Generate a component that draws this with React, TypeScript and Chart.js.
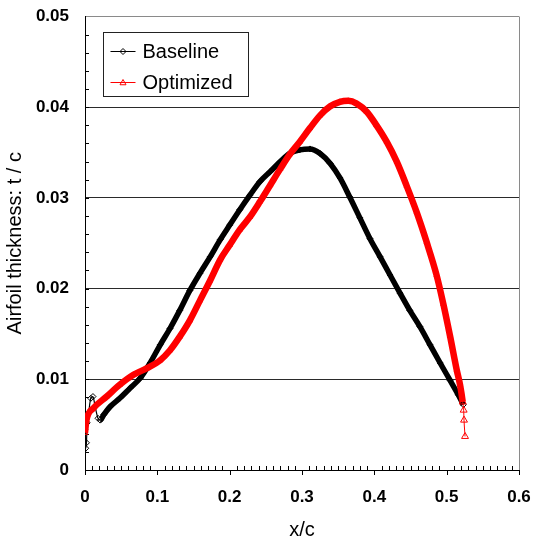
import React, { useEffect, useRef } from 'react';
import { Chart, registerables } from 'chart.js';

Chart.register(...registerables);

// ---- data ----
const seriesLabels = ['Baseline', 'Optimized'];

const baselineX = [
  0.0, 0.001, 0.002, 0.003, 0.005, 0.008, 0.011, 0.014, 0.018, 0.021, 0.026,
  0.035, 0.048, 0.062, 0.076, 0.09, 0.104, 0.1175, 0.131, 0.145, 0.159, 0.173,
  0.187, 0.2, 0.214, 0.228, 0.242, 0.256, 0.27, 0.283, 0.297, 0.311, 0.325,
  0.339, 0.3525, 0.366, 0.38, 0.394, 0.408, 0.4217, 0.4355, 0.449, 0.463,
  0.477, 0.491, 0.5046, 0.516, 0.523,
];
const baselineY = [
  0.0045, 0.0024, 0.003, 0.0052, 0.0063, 0.0079, 0.0081, 0.007, 0.0057, 0.0055,
  0.0061, 0.007, 0.0079, 0.009, 0.0101, 0.0118, 0.0138, 0.0156, 0.0176, 0.0198,
  0.0217, 0.0235, 0.0254, 0.027, 0.0287, 0.0303, 0.0318, 0.0329, 0.034, 0.0349,
  0.0353, 0.0354, 0.0349, 0.0338, 0.0322, 0.0301, 0.0278, 0.0255, 0.0235,
  0.0215, 0.0195, 0.0176, 0.0158, 0.0138, 0.0118, 0.0099, 0.0083, 0.0072,
];

const optimizedX = [
  0.0, 0.002, 0.0115, 0.03, 0.048, 0.067, 0.085, 0.104, 0.1175, 0.131, 0.145,
  0.159, 0.173, 0.187, 0.2, 0.214, 0.228, 0.242, 0.256, 0.27, 0.283, 0.297,
  0.311, 0.325, 0.339, 0.3525, 0.364, 0.3756, 0.3895, 0.403, 0.417, 0.431,
  0.4448, 0.4586, 0.4724, 0.486, 0.4954, 0.5046, 0.514, 0.5185, 0.5222,
  0.5235, 0.524, 0.5254,
];
const optimizedY = [
  0.0041, 0.0055, 0.0068, 0.0081, 0.0094, 0.0105, 0.0112, 0.0121, 0.0132,
  0.0147, 0.0165, 0.0187, 0.0209, 0.0232, 0.0248, 0.0265, 0.0279, 0.0296,
  0.0314, 0.0332, 0.0348, 0.0362, 0.0377, 0.0391, 0.0401, 0.0406, 0.0407,
  0.0404, 0.0395, 0.038, 0.0362, 0.034, 0.0313, 0.0284, 0.0251, 0.0215, 0.0183,
  0.0148, 0.011, 0.0094, 0.0075, 0.0066, 0.0055, 0.0037,
];

const xTickLabels = ['0', '0.1', '0.2', '0.3', '0.4', '0.5', '0.6'];
const yTickLabels = ['0', '0.01', '0.02', '0.03', '0.04', '0.05'];
const xTitle = 'x/c';
const yTitle = 'Airfoil thickness: t / c';

const X_MIN = 0, X_MAX = 0.6, X_STEP = 0.1, X_MINOR = 0.01;
const Y_MIN = 0, Y_MAX = 0.05, Y_STEP = 0.01, Y_MINOR = 0.002;

const FONT = "'Liberation Sans', Arial, sans-serif";

function drawMarker(ctx: CanvasRenderingContext2D, style: string, cx: number, cy: number, r: number) {
  ctx.beginPath();
  if (style === 'triangle') {
    ctx.moveTo(cx, cy - r);
    ctx.lineTo(cx + r, cy + r * 0.75);
    ctx.lineTo(cx - r, cy + r * 0.75);
    ctx.closePath();
  } else {
    ctx.moveTo(cx, cy - r);
    ctx.lineTo(cx + r, cy);
    ctx.lineTo(cx, cy + r);
    ctx.lineTo(cx - r, cy);
    ctx.closePath();
  }
  ctx.stroke();
}

const axisTicksPlugin = {
  id: 'axisTicks',
  beforeDatasetsDraw(chart: any) {
    const { ctx, chartArea: ca, scales } = chart;
    const x = scales.x, y = scales.y;
    ctx.save();
    ctx.strokeStyle = '#000';
    ctx.lineWidth = 1;
    ctx.beginPath();
    const ny = Math.round((Y_MAX - Y_MIN) / Y_MINOR);
    for (let i = 1; i < ny; i++) {
      const py = Math.round(y.getPixelForValue(Y_MIN + i * Y_MINOR)) + 0.5;
      ctx.moveTo(ca.left, py);
      ctx.lineTo(ca.left + 4, py);
    }
    const nx = Math.round((X_MAX - X_MIN) / X_MINOR);
    const per = Math.round(X_STEP / X_MINOR);
    for (let i = 0; i <= nx; i++) {
      const px = Math.round(x.getPixelForValue(X_MIN + i * X_MINOR)) + 0.5;
      if (i % per === 0) {
        ctx.moveTo(px, ca.bottom);
        ctx.lineTo(px, ca.bottom + 5);
      } else {
        ctx.moveTo(px, ca.bottom - 4);
        ctx.lineTo(px, ca.bottom);
      }
    }
    ctx.stroke();
    ctx.restore();
  },
};

const boxLegendPlugin = {
  id: 'boxLegend',
  afterDraw(chart: any) {
    const { ctx, chartArea: ca } = chart;
    const bx = Math.round(ca.left + 18) + 0.5;
    const by = Math.round(ca.top + 15) + 0.5;
    const bw = 145, bh = 64;
    ctx.save();
    ctx.fillStyle = '#fff';
    ctx.fillRect(bx, by, bw, bh);
    ctx.strokeStyle = '#222';
    ctx.lineWidth = 1;
    ctx.strokeRect(bx, by, bw, bh);
    seriesLabels.forEach((lab, i) => {
      const ds = chart.data.datasets.find((d: any) => d.label === lab);
      if (!ds) return;
      const cy = Math.round(by + 18 + i * 31.5) + 0.5;
      ctx.strokeStyle = ds.borderColor;
      ctx.lineWidth = 1;
      ctx.beginPath();
      ctx.moveTo(bx + 7, cy);
      ctx.lineTo(bx + 32, cy);
      ctx.stroke();
      ctx.fillStyle = '#fff';
      drawMarker(ctx, ds.pointStyle, bx + 19.5, cy, 3);
      ctx.fillStyle = '#000';
      ctx.font = `20px ${FONT}`;
      ctx.textBaseline = 'middle';
      ctx.textAlign = 'left';
      ctx.fillText(lab, bx + 39, cy + 1);
    });
    ctx.restore();
  },
};

export default function App() {
  const ref = useRef<HTMLCanvasElement>(null);

  useEffect(() => {
    if (!ref.current) return;
    const optimizedData = optimizedX.map((x, i) => ({ x, y: optimizedY[i] }));
    const baselineData = baselineX.map((x, i) => ({ x, y: baselineY[i] }));
    const redThinFrom = optimizedX.length - 4;
    const blackThinTo = 9;

    const chart = new Chart(ref.current, {
      type: 'line',
      data: {
        datasets: [
          {
            label: 'Optimized',
            data: optimizedData,
            borderColor: '#ff0000',
            borderWidth: 6.5,
            pointStyle: 'triangle',
            pointRadius: (c: any) => (c.dataIndex >= redThinFrom ? 4 : 3),
            pointBorderColor: '#ff0000',
            pointBackgroundColor: 'rgba(255,255,255,0)',
            pointBorderWidth: 1,
            cubicInterpolationMode: 'monotone',
            fill: false,
            order: 0,
            segment: {
              borderWidth: (c: any) => (c.p0DataIndex >= redThinFrom ? 1 : 6.5),
            },
          } as any,
          {
            label: 'Baseline',
            data: baselineData,
            borderColor: '#000000',
            borderWidth: 5.5,
            pointStyle: 'rectRot',
            pointRadius: 3,
            pointBorderColor: '#000000',
            pointBackgroundColor: 'rgba(255,255,255,0)',
            pointBorderWidth: 1,
            cubicInterpolationMode: 'monotone',
            fill: false,
            order: 1,
            segment: {
              borderWidth: (c: any) => (c.p0DataIndex < blackThinTo ? 1.2 : 5.5),
            },
          } as any,
        ],
      },
      options: {
        responsive: true,
        maintainAspectRatio: false,
        animation: false,
        layout: { padding: { left: 0, right: 15, top: 16.5, bottom: 0 } },
        plugins: {
          legend: { display: false },
          tooltip: { enabled: false },
        },
        scales: {
          x: {
            type: 'linear',
            min: X_MIN,
            max: X_MAX,
            afterFit: (s: any) => {
              s.height = 69;
              s.paddingLeft = 0;
              s.paddingRight = 0;
            },
            ticks: {
              stepSize: X_STEP,
              padding: 17,
              color: '#000',
              autoSkip: false,
              maxRotation: 0,
              font: { family: FONT, size: 17, weight: 'bold' },
              callback: (_v: any, i: number) => xTickLabels[i],
            },
            grid: {
              drawTicks: false,
              lineWidth: 1,
              color: (c: any) =>
                c.tick && Math.abs(c.tick.value - X_MAX) < 1e-9 ? '#8a8a8a' : 'rgba(0,0,0,0)',
            },
            border: { color: '#000', width: 1 },
            title: {
              display: true,
              text: xTitle,
              color: '#000',
              font: { family: FONT, size: 20 },
              padding: { top: 0, bottom: -3 },
            },
          },
          y: {
            type: 'linear',
            min: Y_MIN,
            max: Y_MAX,
            afterFit: (s: any) => {
              s.width = 85;
              s.paddingTop = 0;
              s.paddingBottom = 0;
            },
            ticks: {
              stepSize: Y_STEP,
              padding: 16,
              color: '#000',
              font: { family: FONT, size: 17, weight: 'bold' },
              callback: (_v: any, i: number) => yTickLabels[i],
            },
            grid: {
              drawTicks: false,
              lineWidth: 1,
              color: (c: any) => {
                const v = c.tick ? c.tick.value : 0;
                if (Math.abs(v - Y_MIN) < 1e-9) return 'rgba(0,0,0,0)';
                if (Math.abs(v - Y_MAX) < 1e-9) return '#8a8a8a';
                return '#2a2a2a';
              },
            },
            border: { color: '#000', width: 1 },
            title: {
              display: true,
              text: yTitle,
              color: '#000',
              font: { family: FONT, size: 20 },
              padding: { top: 3, bottom: 0 },
            },
          },
        },
      } as any,
      plugins: [axisTicksPlugin, boxLegendPlugin],
    });
    return () => chart.destroy();
  }, []);

  return (
    <div
      style={{
        position: 'fixed',
        left: 0,
        top: 0,
        width: 534,
        height: 539,
        background: '#fff',
        overflow: 'hidden',
      }}
    >
      <canvas ref={ref} />
    </div>
  );
}
